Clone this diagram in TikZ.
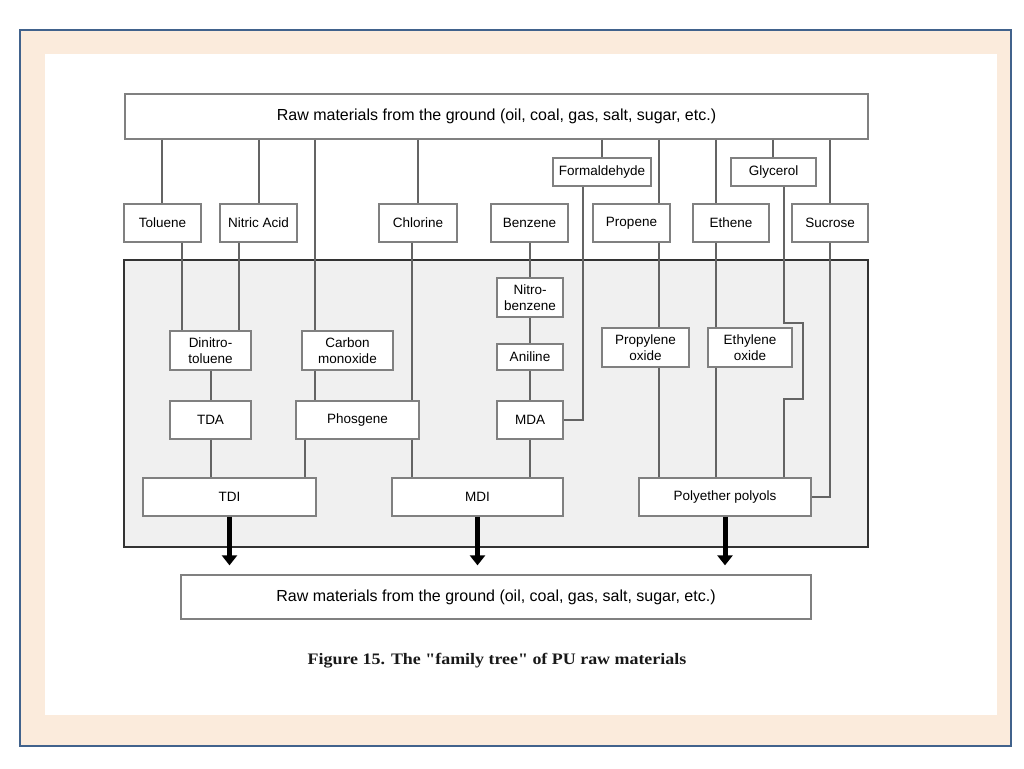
\documentclass[tikz,border=0pt]{standalone}
\usepackage{fontspec}
\setmainfont{Liberation Sans}
\newfontfamily\capfont[FakeStretch=1.12]{Liberation Serif}
\usetikzlibrary{arrows.meta}
\definecolor{frameblue}{RGB}{65,98,140}
\definecolor{peach}{RGB}{251,235,220}
\definecolor{boxline}{RGB}{128,128,128}
\definecolor{wireline}{RGB}{100,100,100}
\definecolor{regionfill}{RGB}{240,240,240}
\tikzset{
  box/.style={draw=boxline, line width=1.3pt, fill=white, inner sep=0pt, align=center,
    font=\fontsize{13.5}{16}\selectfont},
  bigbox/.style={box, font=\fontsize{16}{18}\selectfont},
  wire/.style={draw=wireline, line width=1.2pt},
  bigarrow/.style={draw=black, line width=5pt, -{Triangle[width=15pt,length=10pt]}, shorten >=9pt}
}
\begin{document}
\begin{tikzpicture}[x=1pt,y=-1pt]
\useasboundingbox (0,0) rectangle (1024,768);
% frame
\fill[white] (0,0) rectangle (1024,768);
\fill[peach] (20,30) rectangle (1011,746);
\fill[white] (45,54) rectangle (997,715);
\draw[frameblue, line width=2.5pt] (20,30) rectangle (1011,746);
% region
\draw[fill=regionfill, draw=black!80, line width=1.5pt] (124,260) rectangle (868,547);
% x-coordinates for connectors
\foreach \n/\x in {a162/162,a182/182,a259/259,a239/239,a315/315,a305/305,a211/211,
  a418/418,a412/412,a530/530,a602/602,a583/583,a659/659,a716/716,a773/773,a784/784,a830/830,
  a229/229.5,a478/477.5,a726/725}
  {\coordinate (\n) at (\x,0);}
\coordinate (g1) at (784,323);
\coordinate (g2) at (803,323);
\coordinate (g3) at (803,399);
\coordinate (g4) at (784,399);
% nodes
\node[bigbox, minimum width=743pt, minimum height=45pt] (top) at (496.5,116.5) {Raw materials from the ground (oil, coal, gas, salt, sugar, etc.)};
\node[box, minimum width=77pt, minimum height=38pt] (tol) at (162.5,223) {Toluene};
\node[box, minimum width=77pt, minimum height=38pt] (nit) at (258.5,223) {Nitric Acid};
\node[box, minimum width=78pt, minimum height=38pt] (chl) at (418,223) {Chlorine};
\node[box, minimum width=77pt, minimum height=38pt] (ben) at (529.5,223) {Benzene};
\node[box, minimum width=98pt, minimum height=28pt] (frm) at (602,172) {Formaldehyde};
\node[box, minimum width=77pt, minimum height=38pt] (pro) at (631.5,223) {Propene};
\node[box, minimum width=76pt, minimum height=38pt] (eth) at (731,223) {Ethene};
\node[box, minimum width=85pt, minimum height=28pt] (gly) at (773.5,172) {Glycerol};
\node[box, minimum width=76pt, minimum height=38pt] (suc) at (830,223) {Sucrose};
\node[box, minimum width=66pt, minimum height=39pt] (nb) at (530,297.5) {Nitro-\\benzene};
\node[box, minimum width=66pt, minimum height=26pt] (ani) at (530,357) {Aniline};
\node[box, minimum width=66pt, minimum height=38pt] (mda) at (530,420) {MDA};
\node[box, minimum width=81pt, minimum height=39pt] (dnt) at (210.5,350.5) {Dinitro-\\toluene};
\node[box, minimum width=91pt, minimum height=39pt] (co) at (347.5,350.5) {Carbon\\monoxide};
\node[box, minimum width=81pt, minimum height=38pt] (tda) at (210.5,420) {TDA};
\node[box, minimum width=123pt, minimum height=38pt] (pho) at (357.5,420) {Phosgene};
\node[box, minimum width=87pt, minimum height=39pt] (po) at (645.5,347.5) {Propylene\\oxide};
\node[box, minimum width=84pt, minimum height=39pt] (eo) at (750,347.5) {Ethylene\\oxide};
\node[box, minimum width=173pt, minimum height=38pt] (tdi) at (229.5,497) {TDI};
\node[box, minimum width=171pt, minimum height=38pt] (mdi) at (477.5,497) {MDI};
\node[box, minimum width=172pt, minimum height=38pt] (ppl) at (725,497) {Polyether polyols};
\node[bigbox, minimum width=630pt, minimum height=44pt] (bot) at (496,597) {Raw materials from the ground (oil, coal, gas, salt, sugar, etc.)};
\node[font=\capfont\bfseries\fontsize{16}{19}\selectfont, inner sep=0pt, text=black!90] (cap) at (497,661) {Figure 15. The "family tree" of PU raw materials};
% connectors
\draw[wire] (top.south -| a162) -- (tol.north -| a162);
\draw[wire] (top.south -| a259) -- (nit.north -| a259);
\draw[wire] (top.south -| a315) -- (co.north -| a315);
\draw[wire] (top.south -| a418) -- (chl.north -| a418);
\draw[wire] (top.south -| a602) -- (frm.north -| a602);
\draw[wire] (top.south -| a659) -- (pro.north -| a659);
\draw[wire] (top.south -| a716) -- (eth.north -| a716);
\draw[wire] (top.south -| a773) -- (gly.north -| a773);
\draw[wire] (top.south -| a830) -- (suc.north -| a830);
\draw[wire] (tol.south -| a182) -- (dnt.north -| a182);
\draw[wire] (nit.south -| a239) -- (dnt.north -| a239);
\draw[wire] (dnt.south -| a211) -- (tda.north -| a211);
\draw[wire] (tda.south -| a211) -- (tdi.north -| a211);
\draw[wire] (co.south -| a315) -- (pho.north -| a315);
\draw[wire] (pho.south -| a305) -- (tdi.north -| a305);
\draw[wire] (chl.south -| a412) -- (pho.north -| a412);
\draw[wire] (pho.south -| a412) -- (mdi.north -| a412);
\draw[wire] (ben.south -| a530) -- (nb.north -| a530);
\draw[wire] (nb.south -| a530) -- (ani.north -| a530);
\draw[wire] (ani.south -| a530) -- (mda.north -| a530);
\draw[wire] (mda.south -| a530) -- (mdi.north -| a530);
\draw[wire] (frm.south -| a583) |- (mda.east);
\draw[wire] (pro.south -| a659) -- (po.north -| a659);
\draw[wire] (po.south -| a659) -- (ppl.north -| a659);
\draw[wire] (eth.south -| a716) -- (eo.north -| a716);
\draw[wire] (eo.south -| a716) -- (ppl.north -| a716);
\draw[wire] (gly.south -| a784) -- (g1) -- (g2) -- (g3) -- (g4) -- (ppl.north -| a784);
\draw[wire] (suc.south -| a830) |- (ppl.east);
% arrows
\draw[bigarrow] (tdi.south) -- (bot.north -| a229);
\draw[bigarrow] (mdi.south) -- (bot.north -| a478);
\draw[bigarrow] (ppl.south) -- (bot.north -| a726);
\end{tikzpicture}
\end{document}
